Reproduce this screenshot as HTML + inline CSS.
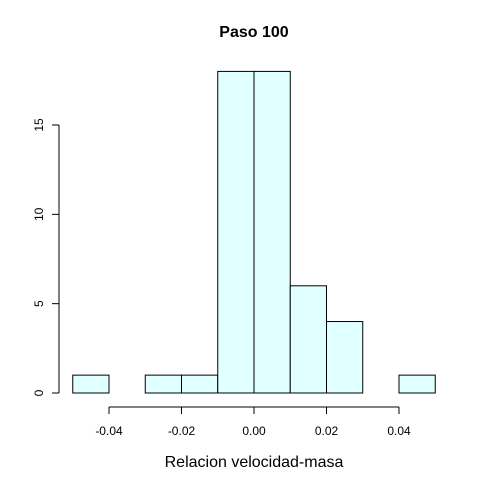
<!DOCTYPE html>
<html><head><meta charset="utf-8"><style>
body{margin:0;background:#fff}
svg{display:block;font-family:"Liberation Sans",Arial,sans-serif}
</style></head><body>
<svg id="chart" width="480" height="480" viewBox="0 0 480 480">
<rect width="480" height="480" fill="#fff"/>
<text x="254" y="37" text-anchor="middle" font-size="16" font-weight="bold">Paso 100</text>
<text x="254" y="467" text-anchor="middle" font-size="16">Relacion velocidad-masa</text>
<g id="bars"></g><g id="xaxis"></g><g id="yaxis"></g>
</svg>
<script>
const binStarts=[-0.05,-0.04,-0.03,-0.02,-0.01,0,0.01,0.02,0.03,0.04];
const counts=[1,0,1,1,18,18,6,4,0,1];
const binWidth=0.01;
const xTicks=[-0.04,-0.02,0,0.02,0.04];
const xTickLabels=["-0.04","-0.02","0.00","0.02","0.04"];
const yTicks=[0,5,10,15];
const yTickLabels=["0","5","10","15"];
const NS="http://www.w3.org/2000/svg";
const xs=v=>254+v*3625;
const ys=v=>393-v*(268/15);
function mk(t,a,p){const e=document.createElementNS(NS,t);for(const k in a)e.setAttribute(k,a[k]);p.appendChild(e);return e;}
const bars=document.getElementById('bars');
binStarts.forEach((b,i)=>{
  if(counts[i]<=0)return;
  const x0=xs(b),x1=xs(b+binWidth),y=ys(counts[i]);
  const r=mk('rect',{x:x0,y:y,width:x1-x0,height:ys(0)-y,fill:'#E0FFFF',stroke:'#000','stroke-width':1},bars);
  
  
});
const xa=document.getElementById('xaxis');
const xl=mk('line',{x1:xs(xTicks[0]),x2:xs(xTicks[xTicks.length-1]),y1:407,y2:407,stroke:'#000'},xa);


xTicks.forEach((t,i)=>{
  mk('line',{x1:xs(t),x2:xs(t),y1:407,y2:414,stroke:'#000'},xa);
  const tx=mk('text',{x:xs(t),y:435,'text-anchor':'middle','font-size':12},xa);
  tx.textContent=xTickLabels[i];
  
  
});
const ya=document.getElementById('yaxis');
const yl=mk('line',{x1:59,x2:59,y1:ys(yTicks[0]),y2:ys(yTicks[yTicks.length-1]),stroke:'#000'},ya);


yTicks.forEach((t,i)=>{
  mk('line',{x1:52,x2:59,y1:ys(t),y2:ys(t),stroke:'#000'},ya);
  const tx=mk('text',{x:0,y:0,'text-anchor':'middle','font-size':12,transform:`translate(43,${ys(t)}) rotate(-90)`},ya);
  tx.textContent=yTickLabels[i];
  
  
});
</script>
</body></html>
